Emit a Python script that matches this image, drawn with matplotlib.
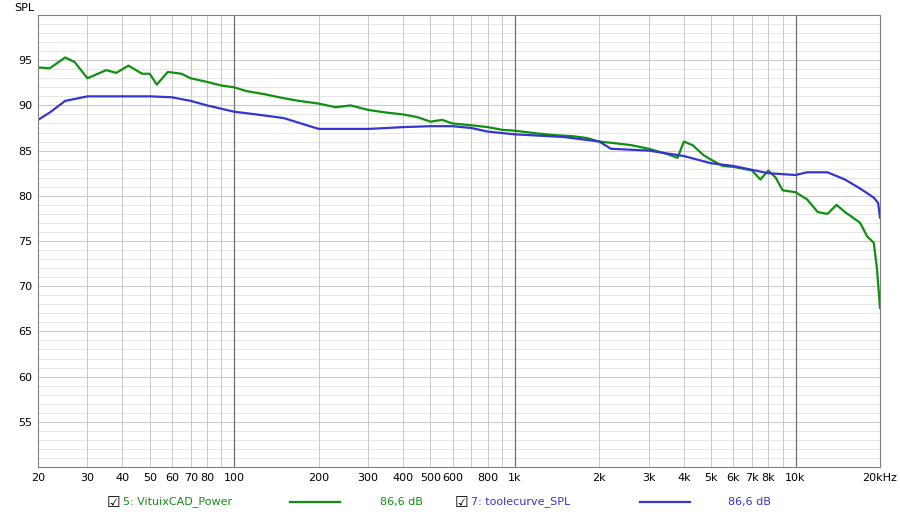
import matplotlib
matplotlib.use("Agg")
import matplotlib.pyplot as plt
import numpy as np

green_f = [20,22,25,27,30,35,38,42,47,50,53,58,65,70,80,90,100,110,130,150,170,200,230,260,300,350,400,450,500,550,600,700,800,900,1000,1200,1400,1600,1800,2000,2300,2600,3000,3500,3800,4000,4300,4700,5000,5500,6000,6500,7000,7500,8000,8500,9000,10000,11000,12000,13000,14000,15000,16000,17000,18000,19000,19500,20000]
green_v = [94.2,94.1,95.3,94.8,93.0,93.9,93.6,94.4,93.5,93.5,92.3,93.7,93.5,93.0,92.6,92.2,92.0,91.6,91.2,90.8,90.5,90.2,89.8,90.0,89.5,89.2,89.0,88.7,88.2,88.4,88.0,87.8,87.6,87.3,87.2,86.9,86.7,86.6,86.4,86.0,85.8,85.6,85.2,84.6,84.2,86.0,85.6,84.5,84.0,83.3,83.2,83.0,82.8,81.8,82.8,82.0,80.6,80.4,79.6,78.2,78.0,79.0,78.2,77.6,77.0,75.5,74.8,72.0,67.6]
blue_f = [20,22,25,30,40,50,60,70,80,100,120,150,200,300,350,400,500,600,700,800,1000,1500,2000,2200,3000,4000,5000,6000,8000,10000,11000,13000,15000,17000,19000,19700,20000]
blue_v = [88.4,89.2,90.5,91.0,91.0,91.0,90.9,90.5,90.0,89.3,89.0,88.6,87.4,87.4,87.5,87.6,87.7,87.7,87.5,87.1,86.8,86.5,86.0,85.2,85.0,84.4,83.6,83.3,82.5,82.3,82.6,82.6,81.8,80.8,79.8,79.2,77.6]
xticks = [20,30,40,50,60,70,80,100,200,300,400,500,600,800,1000,2000,3000,4000,5000,6000,7000,8000,10000,20000]
xlabels = ["20","30","40","50","60","70","80","100","200","300","400","500","600","800","1k","2k","3k","4k","5k","6k","7k","8k","10k","20kHz"]
yticks = [55,60,65,70,75,80,85,90,95]

fig = plt.figure(figsize=(9,5.17), dpi=100)
ax = fig.add_axes([38/900, 1-467/517, 842/900, 452/517])
ax.set_xscale("log")
ax.set_xlim(20,20000)
ax.set_ylim(50,100)
for y in range(51,100):
    ax.axhline(y, color="#c8c8c8" if y%5==0 else "#e6e6e6", lw=0.7, zorder=0)
minor = [m*d for d in (10,100,1000,10000) for m in range(1,10) if 20<=m*d<=20000]
for f in minor:
    major = f in (100,1000,10000)
    ax.axvline(f, color="#707070" if major else "#c8c8c8", lw=0.9 if major else 0.7, zorder=0.5 if major else 0.2)
ax.plot(green_f, green_v, color="#109010", lw=1.6)
ax.plot(blue_f, blue_v, color="#3535d0", lw=1.6)
ax.set_xticks(xticks); ax.set_xticklabels(xlabels, fontsize=8)
ax.set_xticks([], minor=True)
ax.set_yticks(yticks); ax.set_yticklabels([str(v) for v in yticks], fontsize=8)
ax.tick_params(length=0, pad=4)
for s in ax.spines.values(): s.set_color("#808080")
fig.text(14/900, 1-8/517, "SPL", fontsize=8, va="center")
fig.text(107/900, 1-502/517, "\u2611", fontsize=11, va="center")
fig.text(123/900, 1-502/517, "5: VituixCAD_Power", fontsize=8, color="#109010", va="center")
fig.add_artist(plt.Line2D([290/900,340/900],[1-502/517]*2, color="#109010", lw=1.6))
fig.text(380/900, 1-502/517, "86,6 dB", fontsize=8, color="#109010", va="center")
fig.text(455/900, 1-502/517, "\u2611", fontsize=11, va="center")
fig.text(471/900, 1-502/517, "7: toolecurve_SPL", fontsize=8, color="#3535d0", va="center")
fig.add_artist(plt.Line2D([640/900,690/900],[1-502/517]*2, color="#3535d0", lw=1.6))
fig.text(728/900, 1-502/517, "86,6 dB", fontsize=8, color="#3535d0", va="center")
fig.savefig("out.png", dpi=100)
